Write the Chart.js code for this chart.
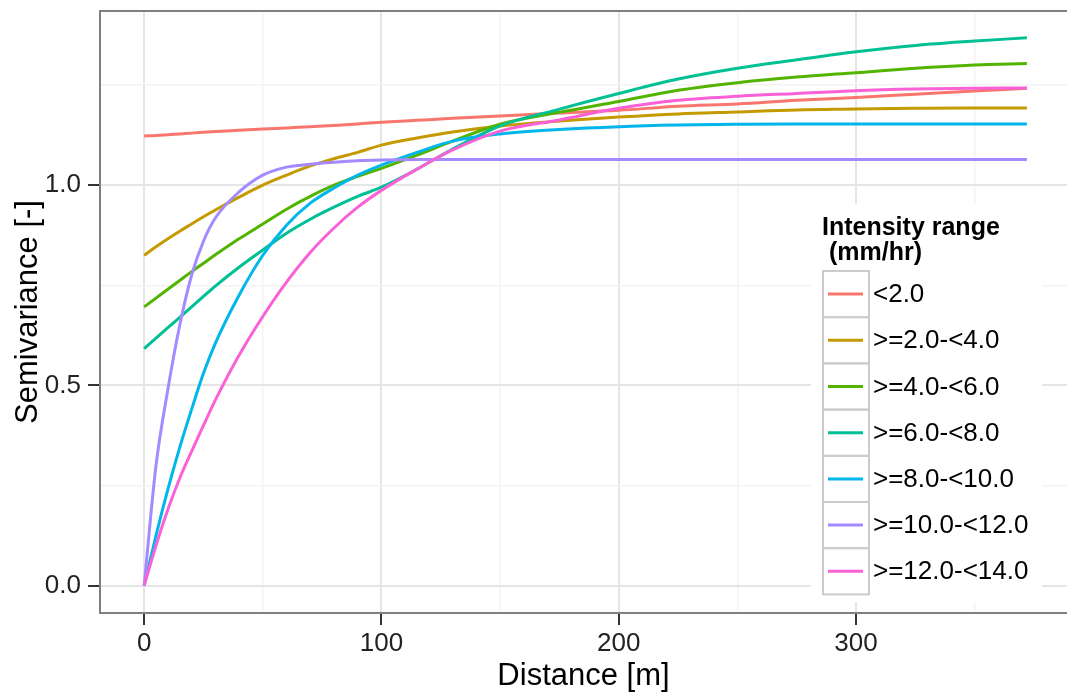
<!DOCTYPE html>
<html>
<head>
<meta charset="utf-8">
<title>Semivariance by intensity range</title>
<script src="https://cdn.jsdelivr.net/npm/chart.js"></script>
<style>
    html, body { margin: 0; padding: 0; background: #ffffff; }
    #wrap { width: 1067px; height: 695px; position: relative; }
</style>
</head>
<body>
<div id="wrap"><canvas id="variogram-chart"></canvas></div>
<script>
// Fitted semivariance per rain intensity class, sampled along distance (m)
const distances = [0, 5, 10, 15, 20, 25, 30, 40, 50, 60, 70, 80, 90, 100, 115, 130, 150, 175, 200, 225, 250, 275, 300, 325, 350, 372];

const seriesLabels = ['<2.0', '>=2.0-<4.0', '>=4.0-<6.0', '>=6.0-<8.0', '>=8.0-<10.0', '>=10.0-<12.0', '>=12.0-<14.0'];
const seriesColors = ['#F8766D', '#C49A00', '#53B400', '#00C094', '#00B6EB', '#A58AFF', '#FB61D7'];

const gammaLt2 = [1.123, 1.124, 1.126, 1.128, 1.130, 1.132, 1.134, 1.137, 1.140, 1.143, 1.146, 1.149, 1.153, 1.157, 1.162, 1.167, 1.173, 1.180, 1.187, 1.197, 1.203, 1.212, 1.219, 1.227, 1.235, 1.242];
const gamma2to4 = [0.825, 0.846, 0.866, 0.885, 0.903, 0.921, 0.938, 0.970, 1.000, 1.025, 1.048, 1.066, 1.082, 1.100, 1.118, 1.133, 1.148, 1.160, 1.170, 1.178, 1.183, 1.188, 1.190, 1.192, 1.193, 1.193];
const gamma4to6 = [0.696, 0.718, 0.740, 0.762, 0.784, 0.805, 0.826, 0.866, 0.903, 0.940, 0.972, 1.000, 1.022, 1.042, 1.075, 1.110, 1.152, 1.182, 1.209, 1.237, 1.256, 1.270, 1.281, 1.292, 1.300, 1.304];
const gamma6to8 = [0.592, 0.618, 0.644, 0.670, 0.696, 0.722, 0.748, 0.795, 0.838, 0.880, 0.915, 0.945, 0.972, 0.995, 1.040, 1.090, 1.148, 1.190, 1.229, 1.265, 1.292, 1.313, 1.333, 1.349, 1.360, 1.368];
const gamma8to10 = [0.000, 0.125, 0.240, 0.345, 0.440, 0.530, 0.605, 0.725, 0.825, 0.900, 0.955, 0.993, 1.025, 1.050, 1.082, 1.110, 1.128, 1.139, 1.146, 1.150, 1.152, 1.153, 1.153, 1.153, 1.153, 1.153];
const gamma10to12 = [0.000, 0.300, 0.490, 0.650, 0.775, 0.860, 0.918, 0.983, 1.025, 1.045, 1.052, 1.057, 1.061, 1.063, 1.064, 1.064, 1.064, 1.064, 1.064, 1.064, 1.064, 1.064, 1.064, 1.064, 1.064, 1.064];
const gamma12to14 = [0.000, 0.100, 0.190, 0.268, 0.335, 0.400, 0.463, 0.575, 0.672, 0.758, 0.832, 0.893, 0.945, 0.987, 1.040, 1.088, 1.135, 1.163, 1.192, 1.212, 1.222, 1.229, 1.236, 1.240, 1.242, 1.243];

const seriesValues = [gammaLt2, gamma2to4, gamma4to6, gamma6to8, gamma8to10, gamma10to12, gamma12to14];

// Axis breaks: major ones get labels, minor ones only a faint grid line
const xMajorTicks = [0, 100, 200, 300];
const xMinorTicks = [50, 150, 250, 350];
const yMajorTicks = [0, 0.5, 1.0];
const yMinorTicks = [0.25, 0.75, 1.25];

const FONT = "'Liberation Sans', Arial, sans-serif";

// Grey panel border drawn over the plot, like theme_bw
const panelBorder = {
    id: 'panelBorder',
    afterDatasetsDraw(chart) {
        const a = chart.chartArea;
        const ctx = chart.ctx;
        ctx.save();
        ctx.strokeStyle = '#7f7f7f';
        ctx.lineWidth = 2;
        ctx.strokeRect(a.left, a.top, a.right - a.left + 20, a.bottom - a.top);
        ctx.restore();
    }
};

// Boxed legend placed inside the panel
const insideLegend = {
    id: 'insideLegend',
    afterDraw(chart) {
        const ctx = chart.ctx;
        const left = 822, top = 271, keyW = 46, rowH = 46.2;
        ctx.save();
        ctx.fillStyle = '#ffffff';
        ctx.fillRect(811, 204, 231, 398);

        ctx.fillStyle = '#000000';
        ctx.textBaseline = 'alphabetic';
        ctx.textAlign = 'left';
        ctx.font = 'bold 25px ' + FONT;
        ctx.fillText('Intensity range', left, 235);
        ctx.fillText(' (mm/hr)', left, 260);

        ctx.font = '26px ' + FONT;
        ctx.textBaseline = 'middle';
        seriesLabels.forEach(function(label, i) {
            const y = top + i * rowH;
            ctx.strokeStyle = '#cccccc';
            ctx.lineWidth = 2;
            ctx.strokeRect(left + 1, y, keyW, rowH);
            ctx.strokeStyle = seriesColors[i];
            ctx.lineWidth = 3;
            ctx.beginPath();
            ctx.moveTo(left + 6, y + rowH / 2);
            ctx.lineTo(left + 41, y + rowH / 2);
            ctx.stroke();
            ctx.fillStyle = '#000000';
            ctx.fillText(label, left + keyW + 5, y + rowH / 2 + 1);
        });
        ctx.restore();
    }
};

function isMajor(list, value) {
    return list.some(v => Math.abs(v - value) < 1e-6);
}

function initVariogramChart(canvas) {
    const datasets = seriesValues.map(function(values, i) {
        return {
            label: seriesLabels[i],
            data: distances.map((d, j) => ({ x: d, y: values[j] })),
            borderColor: seriesColors[i],
            backgroundColor: seriesColors[i],
            borderWidth: 3,
            pointRadius: 0,
            fill: false,
            cubicInterpolationMode: 'monotone',
            order: seriesValues.length - i
        };
    });

    new Chart(canvas, {
        type: 'line',
        data: { datasets: datasets },
        plugins: [panelBorder, insideLegend],
        options: {
            responsive: true,
            maintainAspectRatio: false,
            animation: false,
            layout: { padding: { top: 11, right: 0, left: 0, bottom: 0 } },
            plugins: {
                legend: { display: false },
                tooltip: { enabled: false }
            },
            scales: {
                x: {
                    type: 'linear',
                    min: -18.6,
                    max: 388.9,
                    afterBuildTicks: function(scale) {
                        scale.ticks = xMajorTicks.concat(xMinorTicks).sort((a, b) => a - b).map(v => ({ value: v }));
                    },
                    afterFit: function(scale) {
                        scale.height = 82;
                        scale.paddingLeft = 0;
                        scale.paddingRight = 0;
                    },
                    border: { display: false },
                    grid: {
                        color: ctx => isMajor(xMajorTicks, ctx.tick.value) ? '#e5e5e5' : '#f3f3f3',
                        lineWidth: ctx => isMajor(xMajorTicks, ctx.tick.value) ? 2 : 1.5,
                        tickColor: ctx => isMajor(xMajorTicks, ctx.tick.value) ? '#333333' : 'rgba(0,0,0,0)',
                        tickLength: 12,
                        tickWidth: 2
                    },
                    ticks: {
                        autoSkip: false,
                        maxRotation: 0,
                        padding: 3,
                        color: '#222222',
                        font: { family: FONT, size: 26 },
                        callback: v => isMajor(xMajorTicks, v) ? String(v) : ''
                    },
                    title: {
                        display: true,
                        text: 'Distance [m]',
                        color: '#000000',
                        font: { family: FONT, size: 31 },
                        padding: { top: 2, bottom: 0 }
                    }
                },
                y: {
                    type: 'linear',
                    min: -0.0685,
                    max: 1.435,
                    afterBuildTicks: function(scale) {
                        scale.ticks = yMajorTicks.concat(yMinorTicks).sort((a, b) => a - b).map(v => ({ value: v }));
                    },
                    afterFit: function(scale) {
                        scale.width = 100;
                        scale.paddingTop = 0;
                        scale.paddingBottom = 0;
                    },
                    border: { display: false },
                    grid: {
                        color: ctx => isMajor(yMajorTicks, ctx.tick.value) ? '#e5e5e5' : '#f3f3f3',
                        lineWidth: ctx => isMajor(yMajorTicks, ctx.tick.value) ? 2 : 1.5,
                        tickColor: ctx => isMajor(yMajorTicks, ctx.tick.value) ? '#333333' : 'rgba(0,0,0,0)',
                        tickLength: 12,
                        tickWidth: 2
                    },
                    ticks: {
                        autoSkip: false,
                        padding: 7,
                        color: '#222222',
                        font: { family: FONT, size: 26 },
                        callback: v => isMajor(yMajorTicks, v) ? v.toFixed(1) : ''
                    },
                    title: {
                        display: true,
                        text: 'Semivariance [-]',
                        color: '#000000',
                        font: { family: FONT, size: 31 },
                        padding: { top: 10, bottom: 0 }
                    }
                }
            }
        }
    });
}

document.addEventListener('DOMContentLoaded', function() {
    const canvas = document.getElementById('variogram-chart');
    if (canvas) {
        initVariogramChart(canvas);
    }
});
</script>
</body>
</html>
